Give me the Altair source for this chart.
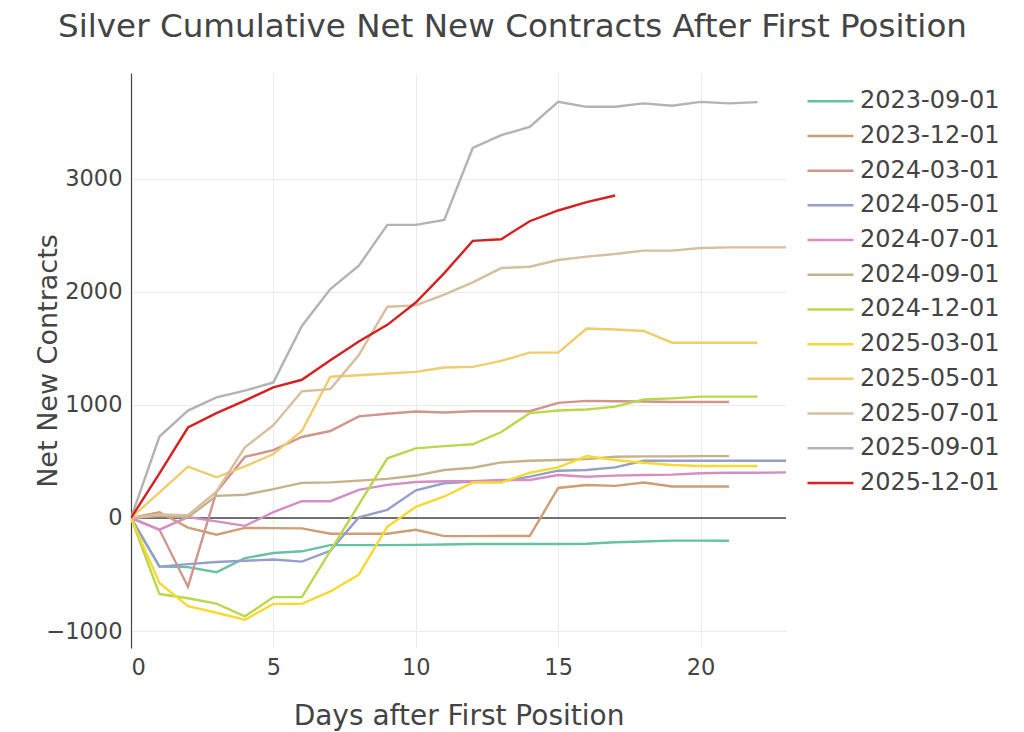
import altair as alt
import pandas as pd

series_names = [
    "2023-09-01", "2023-12-01", "2024-03-01", "2024-05-01", "2024-07-01",
    "2024-09-01", "2024-12-01", "2025-03-01", "2025-05-01", "2025-07-01",
    "2025-09-01", "2025-12-01",
]
series_colors = [
    "#66c2a5", "#cf9d76", "#d0958c", "#969eca", "#d58ec4", "#c6b18b",
    "#b8d84d", "#f6d933", "#efcc6c", "#d6bf9d", "#b3b3b3", "#d62020",
]

s_2023_09 = [0, -430, -435, -480, -355, -310, -295, -240, -240, -240, -238, -235,
             -230, -230, -230, -230, -228, -215, -208, -200, -200, -202]
s_2023_12 = [0, 50, -85, -148, -88, -90, -92, -140, -140, -140, -105, -161,
             -161, -160, -160, 265, 292, 284, 313, 278, 278, 278]
s_2024_03 = [0, -105, -608, 230, 540, 600, 716, 769, 898, 921, 941, 933,
             944, 944, 944, 1018, 1035, 1032, 1030, 1026, 1026, 1026]
s_2024_05 = [0, -430, -408, -389, -378, -368, -386, -290, 5, 72, 245, 307,
             322, 322, 365, 418, 424, 447, 506, 506, 506, 506, 506, 506]
s_2024_07 = [0, -104, 8, -30, -70, 52, 148, 148, 248, 293, 318, 325,
             325, 336, 336, 380, 365, 374, 380, 383, 395, 400, 400, 403]
s_2024_09 = [0, 20, 5, 195, 205, 255, 310, 315, 330, 346, 375, 424,
             444, 491, 506, 512, 520, 541, 545, 545, 547, 547]
s_2024_12 = [0, -673, -710, -758, -870, -700, -700, -292, 118, 528, 615, 635,
             652, 760, 927, 950, 959, 985, 1047, 1058, 1073, 1073, 1073]
s_2025_03 = [0, -575, -780, -838, -900, -760, -760, -650, -500, -77, 98, 190,
             313, 313, 400, 447, 547, 512, 488, 468, 459, 459, 459]
s_2025_05 = [0, 227, 454, 360, 456, 565, 769, 1249, 1262, 1278, 1292, 1330,
             1336, 1389, 1462, 1462, 1675, 1666, 1654, 1550, 1550, 1550, 1550]
s_2025_07 = [0, 30, 25, 233, 625, 820, 1120, 1140, 1440, 1868, 1880, 1975,
             2083, 2210, 2222, 2281, 2311, 2334, 2364, 2364, 2388, 2393, 2393, 2393]
s_2025_09 = [0, 720, 950, 1067, 1126, 1199, 1698, 2024, 2231, 2592, 2592, 2636,
             3272, 3385, 3459, 3680, 3636, 3636, 3666, 3645, 3680, 3666, 3677]
s_2025_12 = [0, 395, 800, 927, 1038, 1155, 1222, 1395, 1560, 1708, 1905, 2165,
             2450, 2465, 2624, 2719, 2793, 2852]

all_series = [s_2023_09, s_2023_12, s_2024_03, s_2024_05, s_2024_07, s_2024_09,
              s_2024_12, s_2025_03, s_2025_05, s_2025_07, s_2025_09, s_2025_12]

rows = []
for order, (name, vals) in enumerate(zip(series_names, all_series)):
    for day, v in enumerate(vals):
        rows.append({"series": name, "day": day, "value": v, "order": order})
df = pd.DataFrame(rows)

FONT = "DejaVu Sans"
TXT = "#444444"

x_scale = alt.Scale(domain=[0, 23], nice=False, zero=False)
y_scale = alt.Scale(domain=[-1150, 3935], nice=False, zero=False)

lines = alt.Chart(df).mark_line(strokeWidth=2.4, clip=True).encode(
    x=alt.X("day:Q", scale=x_scale,
            axis=alt.Axis(values=[0, 5, 10, 15, 20], title="Days after First Position",
                          grid=True, gridColor="#ebebeb", domain=False, ticks=False,
                          labelFontSize=22.5, labelFont=FONT, labelColor=TXT, labelPadding=8,
                          titleFontSize=28, titleFont=FONT, titleColor=TXT,
                          titleFontWeight="normal", titleX=327.5, titleY=68,
                          titleBaseline="middle", titleAlign="center")),
    y=alt.Y("value:Q", scale=y_scale,
            axis=alt.Axis(values=[-1000, 0, 1000, 2000, 3000], format="d",
                          title="Net New Contracts", grid=True, gridColor="#ebebeb",
                          domain=True, domainColor=TXT, domainWidth=1.2, ticks=False,
                          labelFontSize=22.5, labelFont=FONT, labelColor=TXT, labelPadding=9,
                          titleFontSize=27, titleFont=FONT, titleColor=TXT,
                          titleFontWeight="normal", titleX=-83, titleY=287.5,
                          titleBaseline="middle", titleAlign="center", titleAngle=-90)),
    color=alt.Color("series:N",
                    scale=alt.Scale(domain=series_names, range=series_colors),
                    legend=alt.Legend(title=None, orient="none", legendX=686.5, legendY=15.25,
                                      padding=0,
                                      symbolType="M-2,0H2", symbolSize=529,
                                      symbolStrokeWidth=2.5, labelFontSize=24,
                                      labelFont=FONT, labelColor=TXT, labelOffset=16.5,
                                      rowPadding=9.7)),
    order=alt.Order("order:Q"),
    detail="series:N",
)

zero = alt.Chart(pd.DataFrame({"y": [0]})).mark_rule(color=TXT, strokeWidth=1.5).encode(
    y=alt.Y("y:Q", scale=y_scale)
)

chart = alt.layer(zero, lines).properties(
    width=655,
    height=575,
    title=alt.TitleParams(
        "Silver Cumulative Net New Contracts After First Position",
        font=FONT, fontSize=32.6, fontWeight="normal", color=TXT,
        anchor="middle", dx=54, offset=29,
    ),
    autosize=alt.AutoSizeParams(type="none"),
    padding={"left": 123, "top": 65, "right": 225, "bottom": 85},
).configure_view(stroke=None)

chart.save("out.html", embed_options={"renderer": "svg", "actions": False})
